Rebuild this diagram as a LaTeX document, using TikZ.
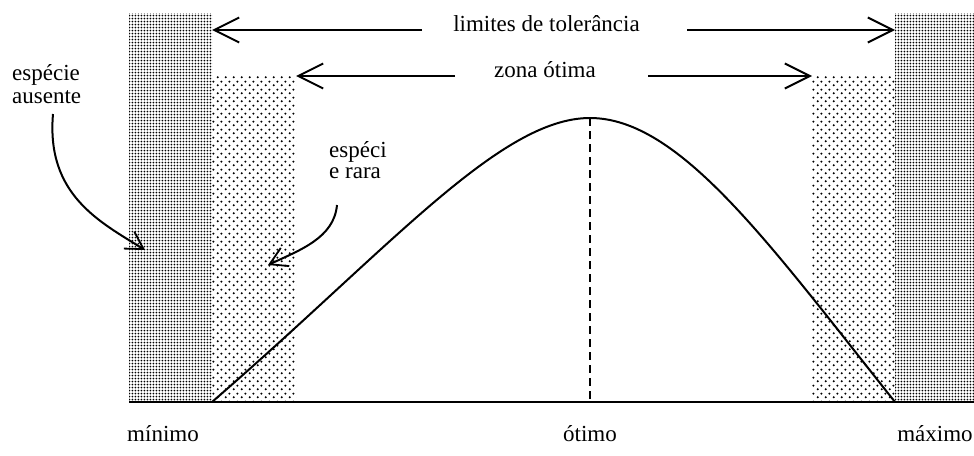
\documentclass[tikz,border=0pt]{standalone}
\usepackage{fontspec}
\setmainfont{Liberation Serif}
\usetikzlibrary{arrows.meta,patterns.meta}
\tikzdeclarepattern{
  name=densedots,
  type=uncolored,
  bottom left={(0pt,0pt)},
  top right={(3.4pt,3.4pt)},
  tile size={(3.4pt,3.4pt)},
  code={\fill (1.7pt,1.7pt) circle (1.15pt);}
}
\tikzdeclarepattern{
  name=sparsedots,
  type=uncolored,
  bottom left={(0pt,0pt)},
  top right={(8pt,8pt)},
  tile size={(8pt,8pt)},
  code={\fill (2pt,2pt) circle (1.25pt); \fill (6pt,6pt) circle (1.25pt);}
}
\begin{document}
\begin{tikzpicture}[x=1pt,y=-1pt,
  lbl/.style={font=\fontsize{23}{23}\selectfont, inner sep=0pt, anchor=base},
  arr/.style={line width=2pt, -{Straight Barb[length=25pt,width=25pt,line width=2pt]}},
  curvearr/.style={line width=2pt, -{Straight Barb[length=17pt,width=20pt,line width=1.8pt]}},
  darkband/.style={pattern=densedots, pattern color=black},
  lightband/.style={pattern=sparsedots, pattern color=black},
]
\useasboundingbox (0,0) rectangle (974,455);
% bands
\fill[darkband] (129,13) rectangle (212,402);
\fill[darkband] (895,13) rectangle (974,402);
\fill[lightband] (212,75) rectangle (296,402);
\fill[lightband] (812,75) rectangle (895,402);
% baseline
\draw[line width=1.8pt] (129,402) -- (974,402);
% curve
\coordinate (c0) at (212,402);
\coordinate (peak) at (590,118);
\coordinate (c1) at (895,402);
\coordinate (pbase) at (590,402);
\draw[line width=2pt] (c0) .. controls (390,248) and (500,118) .. (peak)
  .. controls (680,118) and (770,245) .. (c1);
\draw[line width=1.6pt, dash pattern=on 8pt off 5pt] (peak) -- (pbase);
% top arrows
\node[lbl] (lim) at (546.5,31) {limites de tolerância};
\coordinate (limL) at (422,30);
\coordinate (limR) at (687,30);
\coordinate (limLend) at (212,30);
\coordinate (limRend) at (895,30);
\draw[arr] (limL) -- (limLend);
\draw[arr] (limR) -- (limRend);
\node[lbl] (zona) at (545,77) {zona ótima};
\coordinate (zL) at (455,76);
\coordinate (zR) at (648,76);
\coordinate (zLend) at (296,76);
\coordinate (zRend) at (812,76);
\draw[arr] (zL) -- (zLend);
\draw[arr] (zR) -- (zRend);
% species labels
\node[lbl, anchor=base west, align=left] (aus1) at (12,80) {espécie};
\node[lbl, anchor=base west, align=left] (aus2) at (12,103) {ausente};
\node[lbl, anchor=base west, align=left] (rar1) at (329,157) {espéci};
\node[lbl, anchor=base west, align=left] (rar2) at (329,178) {e rara};
\coordinate (ausS) at (53,114);
\coordinate (ausT) at (145,250);
\coordinate (rarS) at (337,205);
\coordinate (rarT) at (268,265);
\draw[curvearr] (ausS) .. controls (46,195) and (100,222) .. (ausT);
\draw[curvearr] (rarS) .. controls (334,238) and (300,250) .. (rarT);
% bottom labels
\node[lbl] (min) at (163,441) {mínimo};
\node[lbl] (oti) at (590,441) {ótimo};
\node[lbl] (max) at (935,441) {máximo};
\end{tikzpicture}
\end{document}
